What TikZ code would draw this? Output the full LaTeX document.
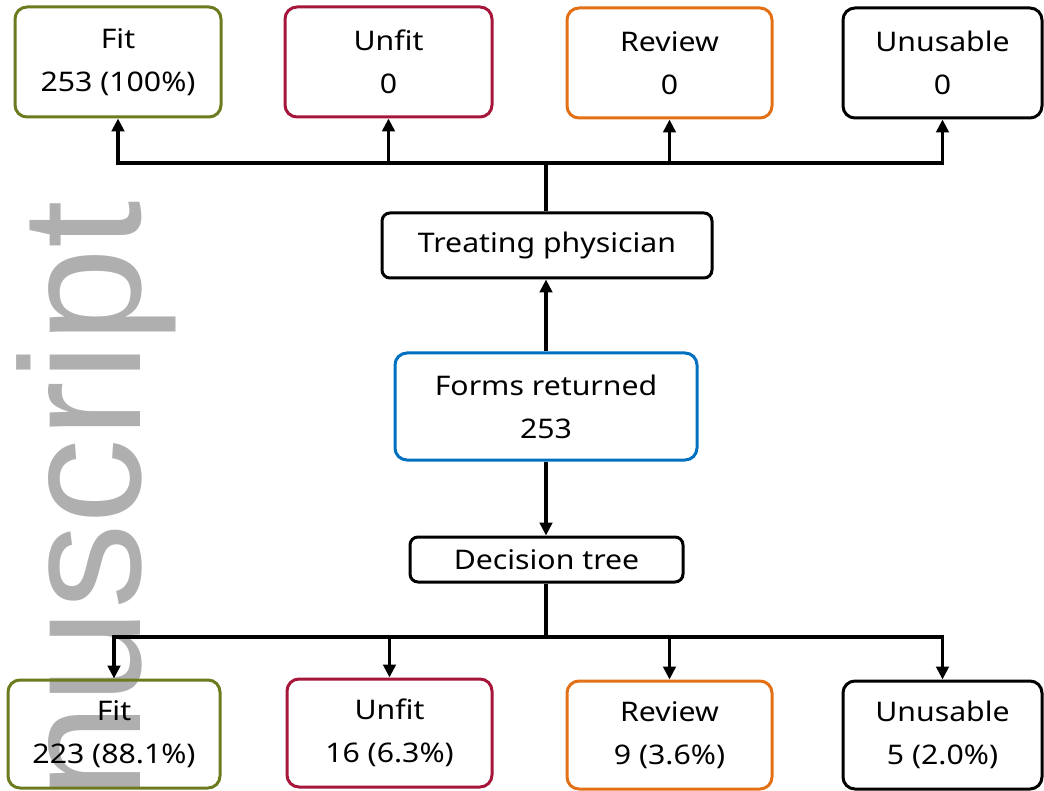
\documentclass[tikz,border=0pt]{standalone}
\usepackage{fontspec}
\setmainfont{Noto Sans}[FakeStretch=1.12]
\newfontfamily\wmfont{Liberation Sans}
\usetikzlibrary{arrows.meta}
\definecolor{fitgreen}{RGB}{110,122,30}
\definecolor{unfitred}{RGB}{165,22,58}
\definecolor{revorange}{RGB}{228,112,22}
\definecolor{formblue}{RGB}{0,112,192}
\definecolor{wmgray}{RGB}{175,175,175}
\tikzset{
  box/.style={draw, line width=3pt, rounded corners=12pt, align=center,
    inner sep=0pt, font=\fontsize{27}{43}\selectfont, text=black},
  bigbox/.style={box, minimum width=#1, minimum height=110pt},
  smallbox/.style={box, rounded corners=8pt},
  conn/.style={line width=3.5pt, draw=black},
  arr/.style={conn, -{Triangle[width=12.5pt,length=13pt]}}
}
\begin{document}
\begin{tikzpicture}[x=1pt,y=-1pt]
\useasboundingbox (0,0) rectangle (1044,791);
% watermark
\node[font=\wmfont\fontsize{171}{171}\selectfont, text=wmgray, rotate=90,
  anchor=base west, inner sep=0pt] (wm) at (140,800) {nuscript};
% top row
\node[bigbox=206pt, draw=fitgreen] (tfit) at (118,62) {Fit\\253 (100\%)};
\node[bigbox=207pt, draw=unfitred] (tunfit) at (388.5,62) {Unfit\\0};
\node[bigbox=205pt, draw=revorange] (trev) at (669.5,63) {Review\\0};
\node[bigbox=199pt, draw=black] (tunus) at (942.5,63) {Unusable\\0};
% middle
\node[smallbox, minimum width=330pt, minimum height=65pt] (treat) at (547,245.5) {Treating physician};
\node[box, draw=formblue, minimum width=302pt, minimum height=107pt] (forms) at (546,406.5) {Forms returned\\253};
\node[smallbox, minimum width=273pt, minimum height=45pt] (dec) at (546.5,559.5) {Decision tree};
% bottom row
\node[bigbox=212pt, minimum height=108pt, draw=fitgreen] (bfit) at (114,734) {Fit\\223 (88.1\%)};
\node[bigbox=205pt, minimum height=108pt, draw=unfitred] (bunfit) at (389.5,733) {Unfit\\16 (6.3\%)};
\node[bigbox=205pt, minimum height=108pt, draw=revorange] (brev) at (669.5,735) {Review\\9 (3.6\%)};
\node[bigbox=199pt, minimum height=108pt, draw=black] (bunus) at (942.5,735) {Unusable\\5 (2.0\%)};
% junctions
\coordinate (tj) at (546,163);
\coordinate (bj) at (546,637);
% connectors top
\draw[conn] (treat.north -| tj) -- (tj);
\draw[arr] (tj) -| (tfit.south);
\draw[arr] (tj) -| (tunfit.south);
\draw[arr] (tj) -| (trev.south);
\draw[arr] (tj) -| (tunus.south);
\draw[arr] (forms.north) -- (forms.north |- treat.south);
\draw[arr] (forms.south) -- (forms.south |- dec.north);
% connectors bottom
\draw[conn] (dec.south -| bj) -- (bj);
\draw[arr] (bj) -| (bfit.north);
\draw[arr] (bj) -| (bunfit.north);
\draw[arr] (bj) -| (brev.north);
\draw[arr] (bj) -| (bunus.north);
\end{tikzpicture}
\end{document}
